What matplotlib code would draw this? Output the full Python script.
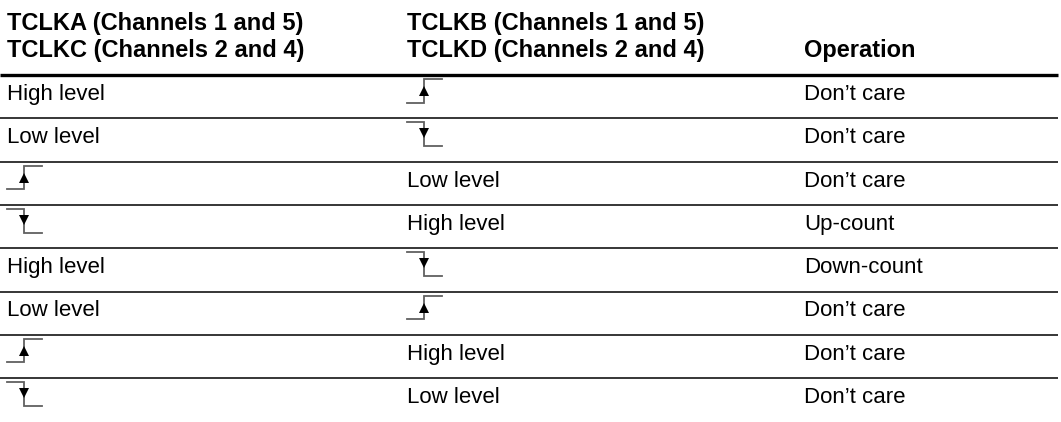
import matplotlib
matplotlib.use("Agg")
import matplotlib.pyplot as plt

# ---- table content ----
header_col1 = ["TCLKA (Channels 1 and 5)", "TCLKC (Channels 2 and 4)"]
header_col2 = ["TCLKB (Channels 1 and 5)", "TCLKD (Channels 2 and 4)"]
header_col3 = ["Operation"]

# "rise" / "fall" are drawn as edge symbols
col1 = ["High level", "Low level", "rise", "fall", "High level", "Low level", "rise", "fall"]
col2 = ["rise", "fall", "Low level", "High level", "fall", "rise", "High level", "Low level"]
col3 = ["Don\u2019t care", "Don\u2019t care", "Don\u2019t care", "Up-count",
        "Down-count", "Don\u2019t care", "Don\u2019t care", "Don\u2019t care"]

W, H = 1061, 422
fig = plt.figure(figsize=(W / 100, H / 100), dpi=100)
ax = fig.add_axes([0, 0, 1, 1])
ax.set_xlim(0, W)
ax.set_ylim(H, 0)
ax.axis("off")

FONT = "Liberation Sans"
FS_HEAD = 17
FS_BODY = 16
col_x = [7, 407, 804]

# header
for i, t in enumerate(header_col1):
    ax.text(col_x[0], 30 + 27 * i, t, fontsize=FS_HEAD, fontweight="bold", family=FONT, va="baseline")
for i, t in enumerate(header_col2):
    ax.text(col_x[1], 30 + 27 * i, t, fontsize=FS_HEAD, fontweight="bold", family=FONT, va="baseline")
ax.text(col_x[2], 57, header_col3[0], fontsize=FS_HEAD, fontweight="bold", family=FONT, va="baseline")

header_bottom = 75
row_h = 43.3
ax.plot([0, 1058], [header_bottom, header_bottom], color="black", lw=2.4, solid_capstyle="butt")

sym_color = "#606060"

def draw_symbol(kind, x0, top):
    hi = top + 4
    lo = top + 27.7
    xv = x0 + 17
    x1 = x0 + 35
    if kind == "rise":
        ax.plot([x0, xv, xv, x1], [lo, lo, hi, hi], color=sym_color, lw=1.3, solid_joinstyle="miter")
        ax.plot([xv], [top + 16], marker="^", color="black", markersize=7, markeredgewidth=0)
    else:
        ax.plot([x0, xv, xv, x1], [hi, hi, lo, lo], color=sym_color, lw=1.3, solid_joinstyle="miter")
        ax.plot([xv], [top + 15], marker="v", color="black", markersize=7, markeredgewidth=0)

for r in range(len(col1)):
    top = header_bottom + row_h * r
    if r > 0:
        ax.plot([0, 1058], [top, top], color="black", lw=1.1, solid_capstyle="butt")
    for c, vals in enumerate([col1, col2, col3]):
        v = vals[r]
        if v in ("rise", "fall"):
            draw_symbol(v, col_x[c], top)
        else:
            ax.text(col_x[c], top + 25, v, fontsize=FS_BODY, family=FONT, va="baseline")

fig.savefig("out.png", dpi=100)
